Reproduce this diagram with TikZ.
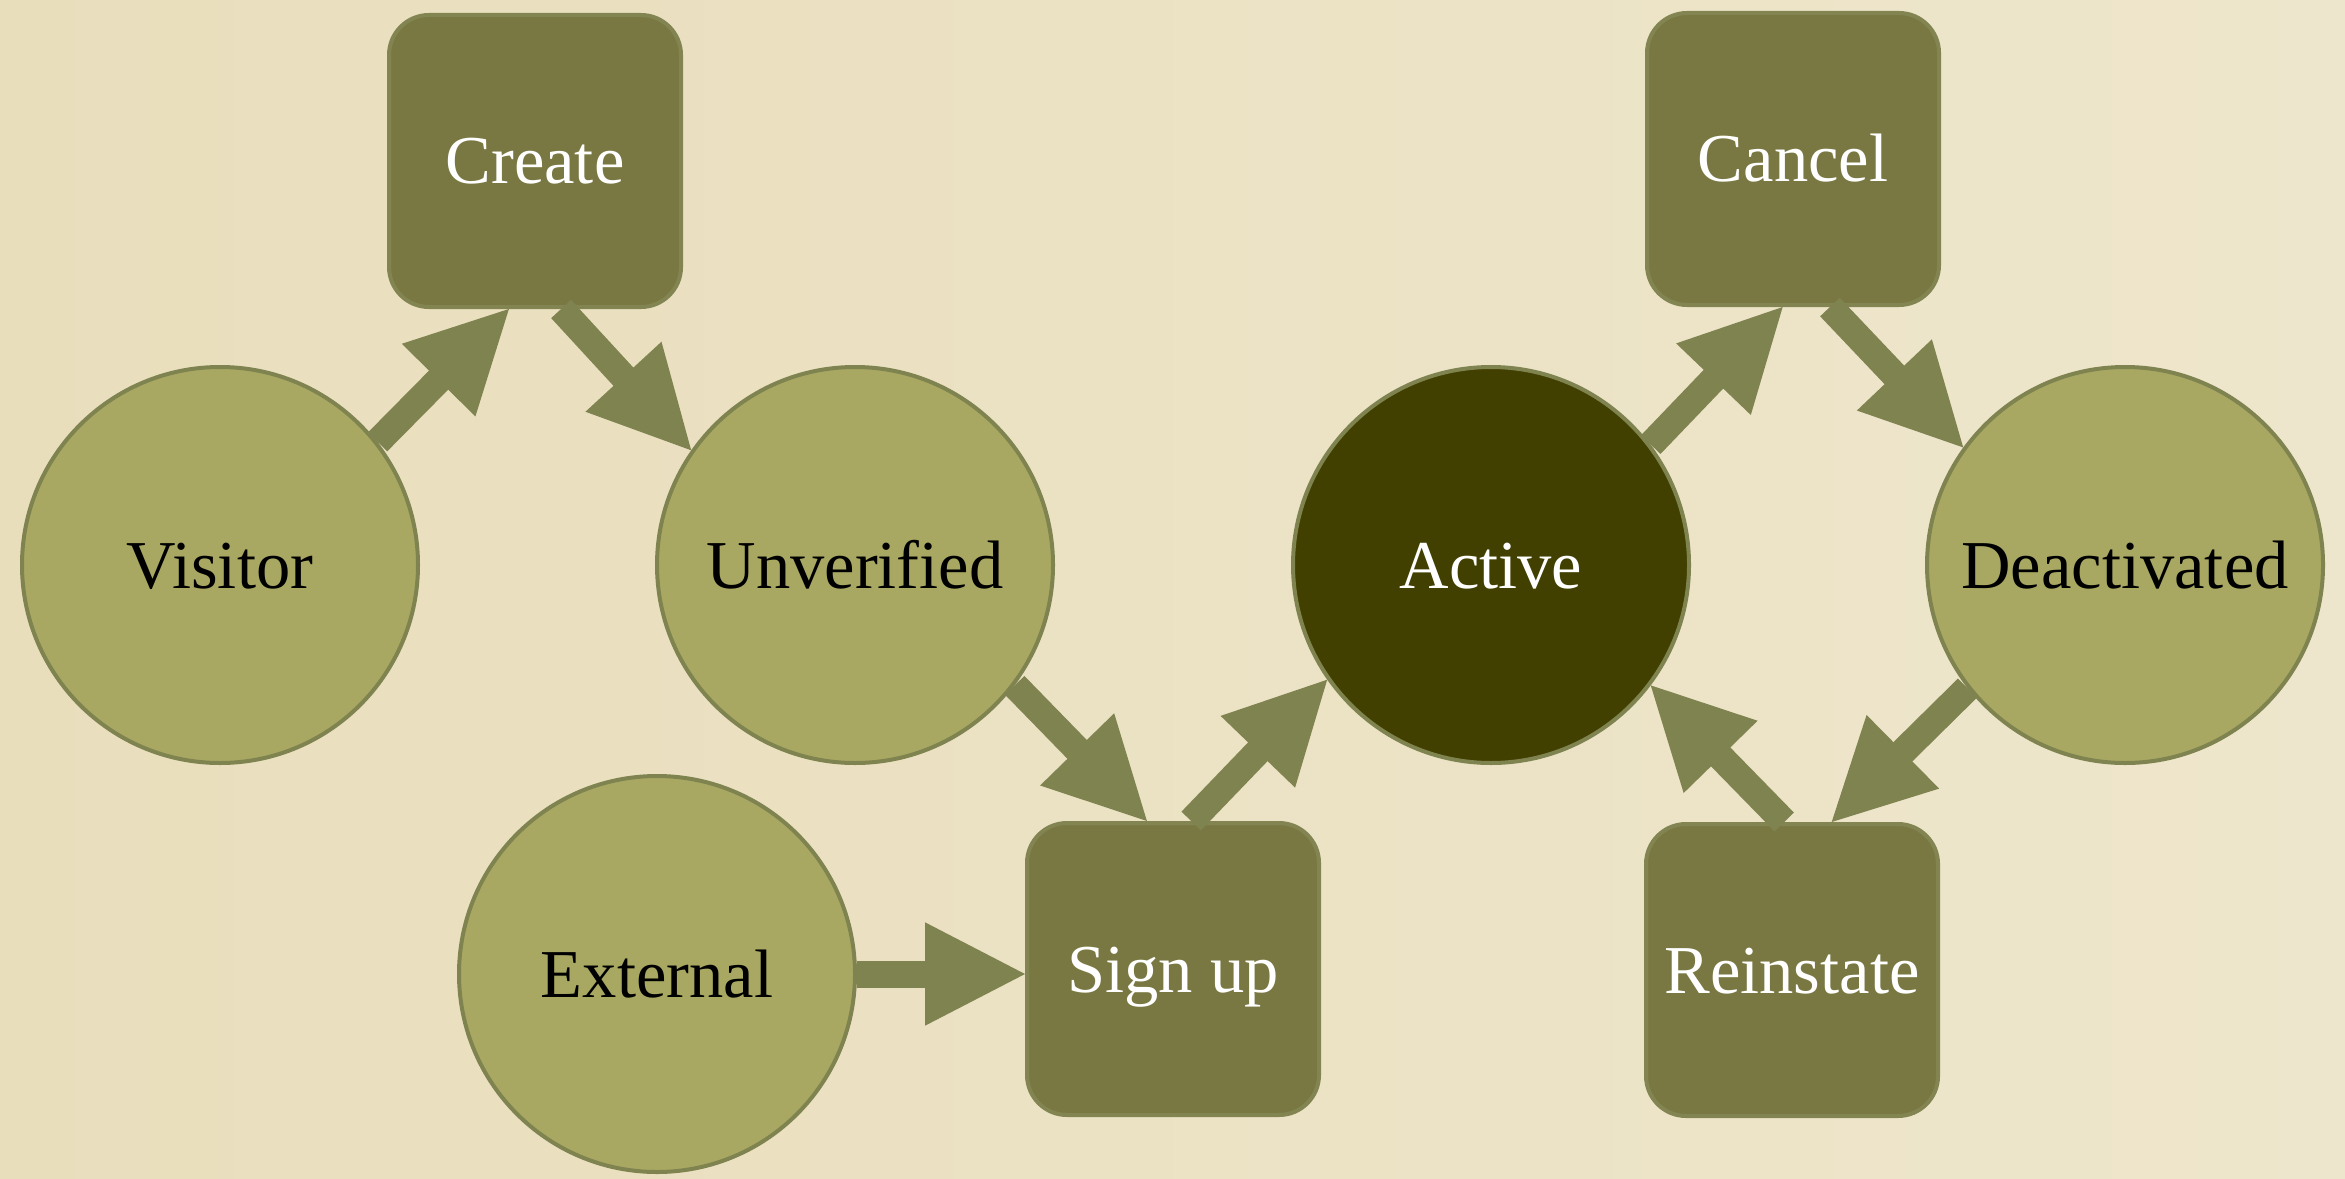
\documentclass[tikz,border=0pt]{standalone}
\usepackage{fontspec}
\setmainfont{Liberation Serif}
\usetikzlibrary{arrows.meta}

\definecolor{paper}{RGB}{233,222,188}
\definecolor{paperlight}{RGB}{238,230,204}
\definecolor{leaf}{RGB}{168,168,98}
\definecolor{rim}{RGB}{126,131,80}
\definecolor{bark}{RGB}{122,120,66}
\definecolor{barkrim}{RGB}{130,133,82}
\definecolor{deep}{RGB}{66,64,0}
\definecolor{flowc}{RGB}{127,131,80}

\tikzset{
	state/.style={circle, draw=rim, line width=0.04cm, fill=leaf, minimum size=3.96cm, inner sep=0pt, text height=0.46cm, text depth=0cm, font=\fontsize{19.5}{22}\selectfont},
	action/.style={rectangle, rounded corners=0.4cm, draw=barkrim, line width=0.04cm, fill=bark, minimum size=2.92cm, inner sep=0pt, text height=0.46cm, text depth=0cm, text=white, font=\fontsize{19.5}{22}\selectfont},
	flow/.style={draw=flowc, line width=0.27cm, -{Triangle[length=1cm,width=1.03cm,line width=0.5pt]}}
}

\begin{document}
\begin{tikzpicture}
	\fill[left color=paper, right color=paperlight] (0,0) rectangle (23.45,-11.78);

	\node[state] (visitor) at (2.20,-5.65) {Visitor};
	\node[state] (unverified) at (8.55,-5.65) {Unverified};
	\node[state, fill=deep, text=white] (active) at (14.91,-5.65) {Active};
	\node[state] (deactivated) at (21.25,-5.65) {Deactivated};
	\node[state] (external) at (6.57,-9.74) {External};

	\node[action] (create) at (5.35,-1.61) {Create};
	\node[action] (cancel) at (17.93,-1.59) {Cancel};
	\node[action] (signup) at (11.73,-9.69) {Sign up};
	\node[action] (reinstate) at (17.92,-9.70) {Reinstate};

	\draw[flow] (visitor.38) -- (create.-100);
	\draw[flow] (create.-80) -- (unverified.145);
	\draw[flow] (unverified.-37) -- (signup.100);
	\draw[flow] (signup.83) -- (active.-145);
	\draw[flow] (active.37) -- (cancel.-94);
	\draw[flow] (cancel.-76) -- (deactivated.144);
	\draw[flow] (deactivated.-142) -- (reinstate.75);
	\draw[flow] (reinstate.93) -- (active.-37);
	\draw[flow] (external.east) -- (external.east -| signup.west);
\end{tikzpicture}
\end{document}
